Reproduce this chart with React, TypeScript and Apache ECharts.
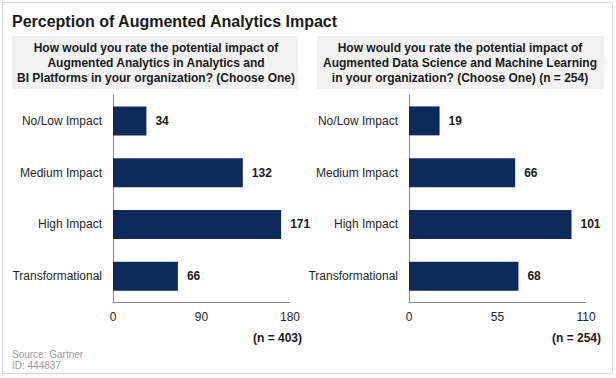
import React, { useEffect, useRef } from "react";
import * as echarts from "echarts";

const categories = ["No/Low Impact", "Medium Impact", "High Impact", "Transformational"];
const analyticsValues = [34, 132, 171, 66];
const dataScienceValues = [19, 66, 101, 68];
const leftTicks = { min: 0, max: 180, interval: 90 };
const rightTicks = { min: 0, max: 110, interval: 55 };
const title = "Perception of Augmented Analytics Impact";
const leftHeader = "How would you rate the potential impact of\nAugmented Analytics in Analytics and\nBI Platforms in your organization? (Choose One)";
const rightHeader = "How would you rate the potential impact of\nAugmented Data Science and Machine Learning\nin your organization? (Choose One) (n = 254)";
const leftN = "(n = 403)";
const rightN = "(n = 254)";
const sourceLines = ["Source: Gartner", "ID: 444837"];

const FONT = "Arial, 'Liberation Sans', Helvetica, sans-serif";
const NAVY = "#0e2a5a";

export default function App() {
  const ref = useRef<HTMLDivElement>(null);
  useEffect(() => {
    if (!ref.current) return;
    const chart = echarts.init(ref.current, null, { renderer: "svg" });
    const mkX = (idx: number, t: { min: number; max: number; interval: number }) => ({
      type: "value",
      gridIndex: idx,
      min: t.min,
      max: t.max,
      interval: t.interval,
      axisLine: { show: true, lineStyle: { color: "#8c8c8c", width: 1 } },
      axisTick: { show: false },
      splitLine: { show: false },
      axisLabel: { color: "#262626", fontSize: 12, fontFamily: FONT, margin: 9 },
    });
    const mkY = (idx: number) => ({
      type: "category",
      gridIndex: idx,
      data: categories,
      inverse: true,
      axisLine: { show: true, lineStyle: { color: "#8c8c8c", width: 1 } },
      axisTick: { show: false },
      axisLabel: { color: "#262626", fontSize: 12, fontFamily: FONT, margin: 11 },
    });
    const mkSeries = (idx: number, data: number[]) => ({
      type: "bar",
      xAxisIndex: idx,
      yAxisIndex: idx,
      data,
      barWidth: 29,
      itemStyle: { color: NAVY },
      label: {
        show: true,
        position: "right",
        distance: 9,
        color: "#1a1a1a",
        fontSize: 12,
        fontWeight: "bold",
        fontFamily: FONT,
      },
    });
    chart.setOption({
      animation: false,
      backgroundColor: "#ffffff",
      grid: [
        { left: 113, top: 95, width: 177, height: 207 },
        { left: 409, top: 95, width: 177, height: 207 },
      ],
      xAxis: [mkX(0, leftTicks), mkX(1, rightTicks)],
      yAxis: [mkY(0), mkY(1)],
      series: [mkSeries(0, analyticsValues), mkSeries(1, dataScienceValues)],
      graphic: [
        {
          type: "rect",
          shape: { x: 2.5, y: 2.5, width: 610, height: 371 },
          style: { fill: "none", stroke: "#d9d9d9", lineWidth: 1 },
          silent: true,
        },
        {
          type: "text",
          left: 12,
          top: 13,
          style: { text: title, fontSize: 16, fontWeight: "bold", fontFamily: FONT, fill: "#1a1a1a" },
        },
        {
          type: "rect",
          shape: { x: 12, y: 36, width: 286, height: 53 },
          style: { fill: "#f2f2f2" },
        },
        {
          type: "rect",
          shape: { x: 317, y: 36, width: 287, height: 53 },
          style: { fill: "#f2f2f2" },
        },
        {
          type: "text",
          x: 156,
          y: 63,
          style: {
            text: leftHeader,
            fontSize: 12,
            fontWeight: "bold",
            fontFamily: FONT,
            fill: "#1a1a1a",
            align: "center",
            verticalAlign: "middle",
            lineHeight: 15,
          },
        },
        {
          type: "text",
          x: 460,
          y: 63,
          style: {
            text: rightHeader,
            fontSize: 12,
            fontWeight: "bold",
            fontFamily: FONT,
            fill: "#1a1a1a",
            align: "center",
            verticalAlign: "middle",
            lineHeight: 15,
          },
        },
        {
          type: "text",
          x: 302,
          y: 338,
          style: { text: leftN, fontSize: 12, fontWeight: "bold", fontFamily: FONT, fill: "#1a1a1a", align: "right", verticalAlign: "middle" },
        },
        {
          type: "text",
          x: 601,
          y: 338,
          style: { text: rightN, fontSize: 12, fontWeight: "bold", fontFamily: FONT, fill: "#1a1a1a", align: "right", verticalAlign: "middle" },
        },
        {
          type: "text",
          x: 12,
          y: 354,
          style: { text: sourceLines[0], fontSize: 10, fontFamily: FONT, fill: "#9a9a9a", verticalAlign: "middle" },
        },
        {
          type: "text",
          x: 12,
          y: 365,
          style: { text: sourceLines[1], fontSize: 10, fontFamily: FONT, fill: "#9a9a9a", verticalAlign: "middle" },
        },
      ],
    });
    return () => chart.dispose();
  }, []);
  return (
    <div
      ref={ref}
      style={{ position: "absolute", left: 0, top: 0, width: 616, height: 378, background: "#fff" }}
    />
  );
}
